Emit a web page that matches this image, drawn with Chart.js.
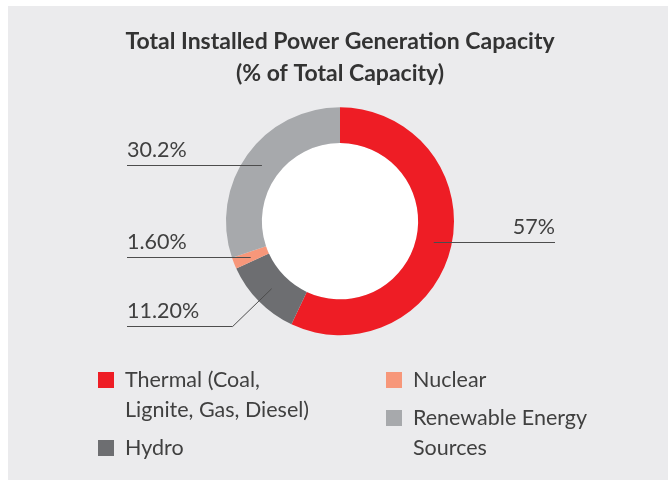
<!DOCTYPE html>
<html>
<head>
<meta charset="utf-8">
<script src="https://cdn.jsdelivr.net/npm/chart.js@4.4.0/dist/chart.umd.min.js"></script>
<style>
  html, body { margin: 0; padding: 0; background: #fff; }
  #wrap { width: 668px; height: 480px; }
</style>
</head>
<body>
<div id="wrap"><canvas id="myChart" width="668" height="480"></canvas></div>
<script>
// chart data
const categories = [['Thermal (Coal,', 'Lignite, Gas, Diesel)'], 'Hydro', 'Nuclear', ['Renewable Energy', 'Sources']];
const shares = [57, 11.2, 1.6, 30.2];
const shareLabels = ['57%', '11.20%', '1.60%', '30.2%'];
const colors = ['#ee1d25', '#6d6e71', '#f7977a', '#a7a9ac'];

const textColor = '#404040';
const font = '21.5px Lato';

// grey panel behind everything + white hole in the ring
const panel = {
  id: 'panel',
  beforeDraw(chart) {
    const c = chart.ctx;
    c.save();
    c.fillStyle = '#ffffff';
    c.fillRect(0, 0, chart.width, chart.height);
    c.fillStyle = '#ebebed';
    c.fillRect(8, 6, chart.width - 8, chart.height - 6);
    c.restore();
  },
  beforeDatasetsDraw(chart) {
    const arc = chart.getDatasetMeta(0).data[0];
    const c = chart.ctx;
    c.save();
    c.fillStyle = '#ffffff';
    c.beginPath();
    c.arc(arc.x, arc.y, arc.innerRadius, 0, Math.PI * 2);
    c.fill();
    c.restore();
  }
};

// value labels with leader lines
const callouts = {
  id: 'callouts',
  afterDatasetsDraw(chart, args, opts) {
    const c = chart.ctx;
    const meta = chart.getDatasetMeta(0);
    c.save();
    c.font = font;
    c.fillStyle = textColor;
    c.strokeStyle = '#4d4d4d';
    c.lineWidth = 1;
    meta.data.forEach((arc, i) => {
      const mid = (arc.startAngle + arc.endAngle) / 2;
      const r = (arc.innerRadius + arc.outerRadius) / 2;
      const ax = arc.x + Math.cos(mid) * r;
      const ay = arc.y + Math.sin(mid) * r;
      const bend = opts.bends[i] || [0, 0];
      const ex = ax + bend[0];
      const ey = Math.round(ay + bend[1]) + 0.5;
      const right = ax > arc.x;
      const endX = right ? opts.rightX : opts.leftX;
      c.beginPath();
      c.moveTo(ax, bend[1] ? ay : ey);
      c.lineTo(ex, ey);
      c.lineTo(endX, ey);
      c.stroke();
      c.textAlign = right ? 'right' : 'left';
      c.textBaseline = 'alphabetic';
      c.fillText(shareLabels[i], endX, ey - 8.5);
    });
    c.restore();
  }
};

// two-column legend under the ring
const sideLegend = {
  id: 'sideLegend',
  afterDraw(chart, args, opts) {
    const c = chart.ctx;
    c.save();
    c.font = font;
    c.textAlign = 'left';
    c.textBaseline = 'middle';
    opts.columns.forEach((col, ci) => {
      let y = opts.top;
      col.forEach(i => {
        const lines = [].concat(categories[i]);
        c.fillStyle = colors[i];
        c.fillRect(opts.x[ci], y - 8, 16, 16);
        c.fillStyle = textColor;
        lines.forEach((t, li) => c.fillText(t, opts.x[ci] + 27, y + li * opts.lineHeight));
        y += (lines.length - 1) * opts.lineHeight + opts.gap;
      });
    });
    c.restore();
  }
};

new Chart(document.getElementById('myChart').getContext('2d'), {
  type: 'doughnut',
  data: {
    labels: categories,
    datasets: [{
      data: shares,
      backgroundColor: colors,
      borderWidth: 0,
      hoverOffset: 0,
      radius: 114
    }]
  },
  options: {
    responsive: false,
    animation: false,
    cutout: 78,
    layout: { padding: { top: 0, bottom: 145, left: 12, right: 0 } },
    plugins: {
      legend: { display: false },
      tooltip: { enabled: false },
      title: {
        display: true,
        text: ['Total Installed Power Generation Capacity', '(% of Total Capacity)'],
        color: '#333333',
        font: { family: 'Lato', size: 23, weight: 'bold', lineHeight: 1.4 },
        padding: { top: 25, bottom: 18 }
      },
      callouts: { leftX: 127, rightX: 555, bends: [null, [-39, 37], null, null] },
      sideLegend: { columns: [[0, 1], [2, 3]], x: [98, 386], top: 380, lineHeight: 30, gap: 38 }
    }
  },
  plugins: [panel, callouts, sideLegend]
});
</script>
</body>
</html>
